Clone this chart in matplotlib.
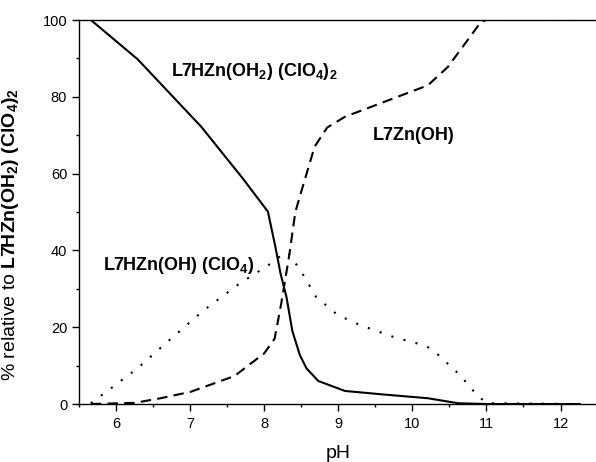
import matplotlib
matplotlib.use("Agg")
import matplotlib.pyplot as plt

plt.rcParams['font.family'] = ['Liberation Sans', 'DejaVu Sans']
plt.rcParams['mathtext.fontset'] = 'custom'
plt.rcParams['mathtext.rm'] = 'Liberation Sans'
plt.rcParams['mathtext.bf'] = 'Liberation Sans:bold'
plt.rcParams['mathtext.it'] = 'Liberation Sans:italic'

# Datos
ph_solid = [5.66, 6.29, 7.15, 7.7, 8.05, 8.15, 8.22, 8.30, 8.38, 8.48, 8.57, 8.73, 9.09, 9.6, 10.21, 10.62, 11.0, 12.26]
pct_solid = [100, 89.8, 72.2, 59.0, 50.1, 41.0, 34.0, 27.9, 19.0, 12.8, 9.3, 6.0, 3.4, 2.5, 1.5, 0.2, 0, 0]

ph_dash = [5.66, 6.25, 6.6, 7.01, 7.6, 8.0, 8.14, 8.23, 8.34, 8.42, 8.52, 8.68, 8.85, 9.09, 10.21, 10.48, 10.93, 11.1, 11.25, 12.26]
pct_dash = [0, 0.3, 1.5, 3.2, 7.3, 13.2, 17.0, 26.2, 39.0, 50.0, 56.6, 67.0, 72.0, 74.8, 83.0, 87.8, 99.6, 100.5, 100, 100]

ph_dot = [5.66, 5.98, 6.29, 6.74, 7.19, 7.64, 8.09, 8.25, 8.32, 8.5, 8.70, 8.99, 9.29, 9.74, 10.19, 10.35, 10.64, 10.89, 11.02, 12.26]
pct_dot = [0.2, 4.8, 9.3, 17.0, 24.5, 31.0, 36.6, 39.0, 39.5, 34.5, 27.9, 23.2, 20.6, 17.5, 15.1, 12.8, 7.6, 1.9, 0.2, 0]

fig = plt.figure(figsize=(5.96, 4.62), dpi=100)
ax = fig.add_axes([0.1326, 0.1255, 0.8700, 0.8312])

ax.plot(ph_solid, pct_solid, color='black', lw=1.5, linestyle='-')
ax.plot(ph_dash, pct_dash, color='black', lw=1.5, linestyle=(0, (5, 3)))
ax.plot(ph_dot, pct_dot, color='black', lw=1.5, linestyle=(0, (1, 5)))

ax.set_xlim(5.5, 12.5)
ax.set_ylim(0, 100)
ax.set_xticks([6, 7, 8, 9, 10, 11, 12])
ax.set_xticks([5.5, 6.5, 7.5, 8.5, 9.5, 10.5, 11.5], minor=True)
ax.set_yticks([0, 20, 40, 60, 80, 100])
ax.set_yticks([10, 30, 50, 70, 90], minor=True)
ax.tick_params(which='major', direction='out', length=5, width=1, labelsize=10.5)
ax.tick_params(axis='x', which='major', pad=4.5)
ax.tick_params(which='minor', direction='out', length=2.5, width=1)
ax.spines['right'].set_visible(False)
for s in ['left', 'bottom', 'top']:
    ax.spines[s].set_linewidth(1.0)

ax.set_xlabel("pH", fontsize=14)
ax.set_ylabel(r"% relative to $\mathbf{L7HZn(OH_2)\ (ClO_4)_2}$", fontsize=14)
ax.xaxis.set_label_coords(0.4995, -0.107)
ax.yaxis.set_label_coords(-0.112, 0.44)

ax.text(6.74, 85.4, r"$\mathbf{L7HZn(OH_2)\ (ClO_4)_2}$", fontsize=13, va='baseline')
ax.text(9.47, 68.75, "L7Zn(OH)", fontsize=13, fontweight='bold', va='baseline')
ax.text(5.82, 34.9, r"$\mathbf{L7HZn(OH)\ (ClO_4)}$", fontsize=13, va='baseline')

fig.savefig("out.png", dpi=100)
